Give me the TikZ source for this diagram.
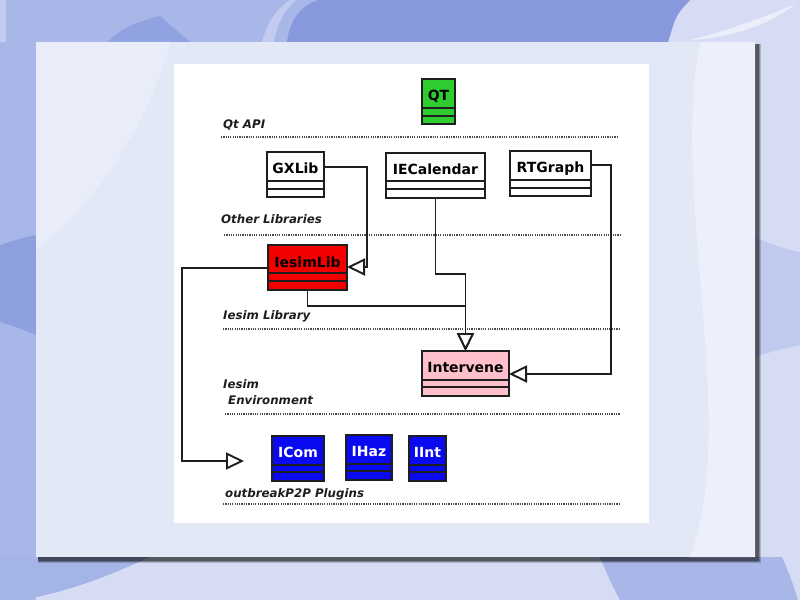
\documentclass[tikz,border=0pt]{standalone}
\usepackage{fontspec}
\newfontfamily\clsfont{DejaVu Sans Bold}
\newfontfamily\labfont{DejaVu Sans Bold Oblique}
\usetikzlibrary{arrows.meta,fit}
\definecolor{bgA}{HTML}{D5DCF4}
\definecolor{bgB}{HTML}{A9B7E8}
\definecolor{bgC}{HTML}{8799DC}
\definecolor{bgD}{HTML}{C0CAEE}
\definecolor{panel}{HTML}{E3E8F7}
\definecolor{panelL}{HTML}{F0F2FB}
\definecolor{lineblack}{HTML}{1E1E1E}
\definecolor{dotgray}{HTML}{4A4A4A}
\definecolor{labelgray}{HTML}{1E1E1E}
\definecolor{qtgreen}{HTML}{2FCC2F}
\definecolor{libred}{HTML}{F20000}
\definecolor{intpink}{HTML}{FFC0CB}
\definecolor{plugblue}{HTML}{0A0AF0}
\newcommand\umlbox[8]{%
  \node[clsbox, fill=#8, fit={(#2,#3) (#4,#5)}] (#1) {};
  \draw[divider] (#2,#6) -- (#4,#6) (#2,#7) -- (#4,#7);}
\begin{document}
\begin{tikzpicture}[x=1bp,y=-1bp,
  clsbox/.style={draw=lineblack, line width=1.9bp, inner sep=0pt, outer sep=0pt},
  divider/.style={draw=lineblack, line width=1.9bp},
  clsname/.style={font=\clsfont\fontsize{14bp}{16bp}\selectfont, inner sep=0pt, anchor=base},
  layer/.style={font=\labfont\fontsize{11.8bp}{14bp}\selectfont, inner sep=0pt, anchor=base west, text=labelgray},
  sep/.style={draw=dotgray, line width=2bp, dash pattern=on 1.2bp off 1.1bp},
  conn/.style={draw=lineblack, line width=1.9bp},
  inh/.style={conn, -{Triangle[open, length=18bp, width=17bp, fill=white]}},
]
\useasboundingbox (0,0) rectangle (800,600);
% ---------- background ----------
\fill[bgA] (0,0) rectangle (800,600);
\fill[bgB] (6,0) -- (690,0) .. controls (676,15) .. (668,42) -- (6,42) -- cycle;
\fill[bgC] (287,42) .. controls (290,20) and (300,6) .. (318,0) -- (690,0) .. controls (676,15) .. (668,42) -- cycle;
\fill[bgC!70!bgB] (108,42) .. controls (118,30) and (135,22) .. (160,16) -- (190,42) -- cycle;
\fill[white, opacity=.3] (262,42) .. controls (268,20) and (278,8) .. (290,0) -- (296,0) .. controls (284,10) and (277,25) .. (274,42) -- cycle;
\fill[white, opacity=.55] (690,40) .. controls (730,30) and (770,15) .. (795,4) .. controls (770,25) and (730,38) .. (690,40) -- cycle;
% left band
\fill[bgB] (0,42) rectangle (36,600);
\fill[bgC!80!bgB] (0,245) .. controls (15,240) and (30,236) .. (36,235) -- (36,335) .. controls (25,330) and (10,325) .. (0,322) -- cycle;
\fill[bgA!60!bgB] (0,0) rectangle (6,42);
% right band
\fill[bgD] (755,237) .. controls (770,245) and (790,250) .. (800,252) -- (800,345) .. controls (785,348) and (770,352) .. (755,357) -- cycle;
% bottom band
\fill[bgB!90!bgC] (0,557) -- (150,557) .. controls (110,575) and (70,592) .. (20,600) -- (0,600) -- cycle;
\fill[bgB] (600,557) -- (782,557) .. controls (790,575) and (795,590) .. (798,600) -- (620,600) .. controls (612,585) and (605,570) .. (600,557) -- cycle;
% ---------- panel with shadow ----------
\fill[black, opacity=.18] (38,44) rectangle (761,563);
\fill[black, opacity=.25] (38,44) rectangle (760,562);
\fill[black, opacity=.35] (38,44) rectangle (759,561);
\fill[panel] (36,42) rectangle (755,557);
\fill[panelL, opacity=.8] (700,42) .. controls (670,200) and (740,420) .. (690,557) -- (755,557) -- (755,42) -- cycle;
\fill[panelL, opacity=.5] (36,42) -- (170,42) .. controls (150,120) and (100,200) .. (36,250) -- cycle;
% white diagram area
\fill[white] (174,64) rectangle (649,523);
% ---------- layer separators ----------
\draw[sep] (221,136.7) -- (617,136.7);
\draw[sep] (224,234.7) -- (620,234.7);
\draw[sep] (223,329) -- (620,329);
\draw[sep] (225,414) -- (620,414);
\draw[sep] (223,503.7) -- (619,503.7);
% ---------- layer labels ----------
\node[layer] (lqt) at (223,128.6) {Qt API};
\node[layer] (lother) at (221,224) {Other Libraries};
\node[layer] (llib) at (223,319) {Iesim Library};
\node[layer] (lenv1) at (223,388) {Iesim};
\node[layer] (lenv2) at (228,404) {Environment};
\node[layer] (lplug) at (225,497) {outbreakP2P Plugins};
% ---------- class boxes ----------
\umlbox{qt}{422}{79}{455}{124}{108}{116}{qtgreen}
\umlbox{gxlib}{267}{152}{324}{197}{181}{189}{white}
\umlbox{iecal}{386}{153}{485}{198}{181}{189}{white}
\umlbox{rtgraph}{510}{151}{591}{196}{180}{188}{white}
\umlbox{iesimlib}{268}{245}{347}{290}{273}{281}{libred}
\umlbox{intervene}{422}{351}{509}{396}{380}{387}{intpink}
\umlbox{icom}{272}{436}{324}{481}{465}{472}{plugblue}
\umlbox{ihaz}{346}{435}{392}{480}{464}{471}{plugblue}
\umlbox{iint}{409}{436}{446}{481}{465}{472}{plugblue}
\node[clsname] (qtt) at (438.5,101) {QT};
\node[clsname] (gxlibt) at (295.5,174) {GXLib};
\node[clsname] (iecalt) at (435.5,174.5) {IECalendar};
\node[clsname] (rtgrapht) at (550.5,173) {RTGraph};
\node[clsname] (iesimlibt) at (307.5,267) {IesimLib};
\node[clsname] (intervenet) at (465.5,372.3) {Intervene};
\node[clsname, text=white] (icomt) at (298,457) {ICom};
\node[clsname, text=white] (ihazt) at (369,456.5) {IHaz};
\node[clsname, text=white] (iintt) at (427.5,457) {IInt};
% ---------- connectors ----------
\coordinate (gxbend) at (367,167);
\coordinate (gxdown) at (367,267);
\draw[inh] (gxlib.east |- gxbend) -- (gxbend) -- (gxdown) -- (iesimlib.east |- gxdown);
\coordinate (plA) at (182,268);
\coordinate (plB) at (182,461);
\coordinate (plugtip) at (244,461);
\draw[inh] (iesimlib.west |- plA) -- (plA) -- (plB) -- (plugtip);
\coordinate (icA) at (435.5,274);
\draw[inh] (iecal.south) -- (iecal.south |- icA) -- (intervene.north |- icA) -- (intervene.north);
\coordinate (ilA) at (307.5,306);
\draw[inh] (iesimlib.south) -- (iesimlib.south |- ilA) -- (intervene.north |- ilA) -- (intervene.north);
\coordinate (rtA) at (611,165);
\coordinate (rtB) at (611,374);
\draw[inh] (rtgraph.east |- rtA) -- (rtA) -- (rtB) -- (intervene.east |- rtB);
\end{tikzpicture}
\end{document}
